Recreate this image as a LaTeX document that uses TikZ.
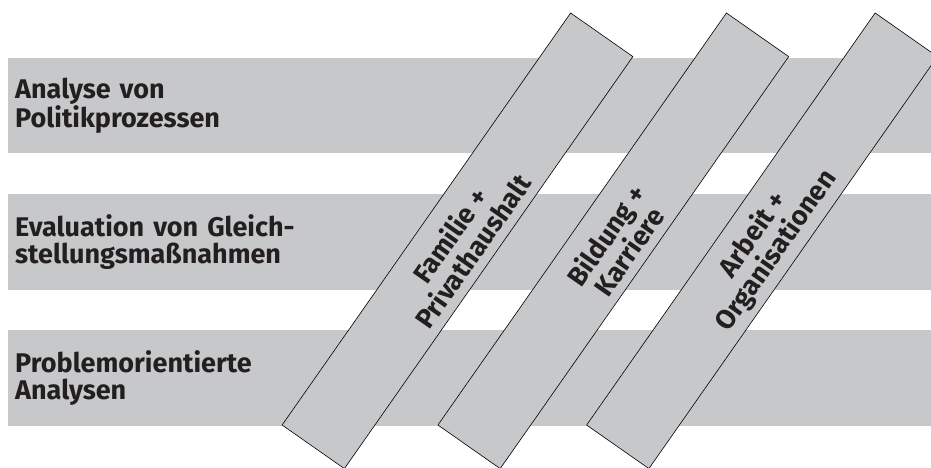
\documentclass[tikz,border=0pt]{standalone}
\usepackage{fontspec}
\setmainfont{Fira Sans}
\usetikzlibrary{positioning}
\definecolor{bandgray}{RGB}{199,200,202}
\definecolor{inkblack}{RGB}{35,31,32}

\begin{document}
\begin{tikzpicture}[x=1pt, y=-1pt,
        every node/.style={font=\fontsize{27}{27}\selectfont\bfseries, text=inkblack},
        band/.style={fill=bandgray, anchor=west, minimum width=923pt, minimum height=95.5pt,
            text width=909pt, inner sep=7pt, align=left},
        strip/.style={fill=bandgray, draw=black, line width=0.6pt, rotate=55,
            minimum width=503pt, minimum height=76pt, inner sep=0pt},
        striplabel/.style={rotate=55, align=center, inner sep=0pt,
            font=\fontsize{27}{28}\selectfont\bfseries},]

        \useasboundingbox (0,0) rectangle (931,468);

        % horizontal bands
        \node[band] (b_1) at (8,105.5) {Analyse von\\Politikprozessen};
        \node[band] (b_2) at (8,242) {Evaluation von Gleich-\\stellungsmaßnahmen};
        \node[band] (b_3) at (8,378) {Problemorientierte\\Analysen};

        % diagonal strips
        \node[strip] (s_1) at (457.5,240.8) {};
        \node[strip] (s_2) at (613.3,240.8) {};
        \node[strip] (s_3) at (762,240.8) {};

        \node[striplabel] (l_1) at (461,243) {Familie +\\Privathaushalt};
        \node[striplabel] (l_2) at (617,243) {Bildung +\\Karriere};
        \node[striplabel] (l_3) at (765,243) {Arbeit +\\Organisationen};

\end{tikzpicture}
\end{document}
